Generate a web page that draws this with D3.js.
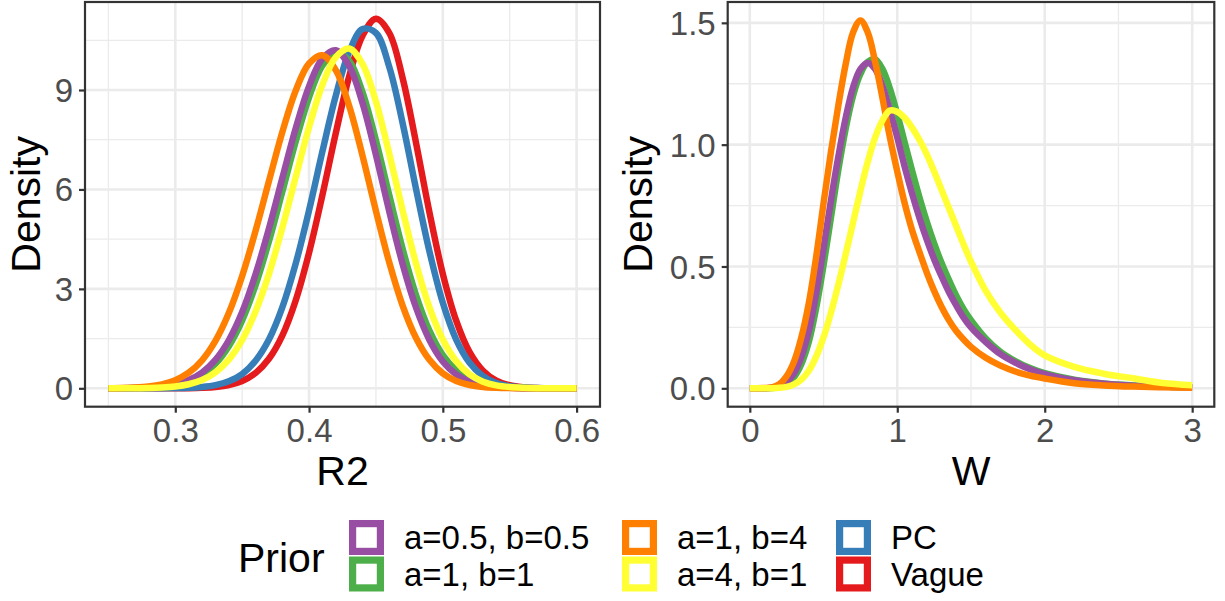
<!DOCTYPE html>
<html>
<head>
<meta charset="utf-8">
<script src="https://cdn.jsdelivr.net/npm/d3@7"></script>
<style>
  html, body { margin: 0; padding: 0; background: #ffffff; }
  svg { display: block; font-family: "Liberation Sans", Arial, sans-serif; }
</style>
</head>
<body>
<svg id="chart" width="1225" height="601"></svg>
<script>
// Prior labels, in legend order
const priors = ["a=0.5, b=0.5", "a=1, b=1", "a=1, b=4", "a=4, b=1", "PC", "Vague"];
const priorColors = ["#984EA3", "#4DAF4A", "#FF7F00", "#FFFF33", "#377EB8", "#E41A1C"];

// R2 panel: densities on a shared grid
const r2Grid = [0.25, 0.26, 0.27, 0.28, 0.29, 0.30, 0.31, 0.32, 0.33, 0.34, 0.35, 0.36,
  0.37, 0.38, 0.39, 0.40, 0.41, 0.42, 0.43, 0.44, 0.45, 0.46, 0.47, 0.48,
  0.49, 0.50, 0.51, 0.52, 0.53, 0.54, 0.55, 0.56, 0.57, 0.58, 0.59, 0.60];
const r2Purple = [0.001, 0.004, 0.01, 0.024, 0.056, 0.122, 0.249, 0.476, 0.859, 1.45, 2.30, 3.44,
  4.82, 6.34, 7.84, 9.11, 9.95, 10.2, 9.73, 8.60, 7.04, 5.33, 3.74, 2.43,
  1.46, 0.81, 0.42, 0.20, 0.088, 0.036, 0.014, 0.005, 0.002, 0, 0, 0];
const r2Green = [0.001, 0.003, 0.008, 0.019, 0.046, 0.10, 0.21, 0.41, 0.74, 1.27, 2.05, 3.11,
  4.43, 5.93, 7.44, 8.78, 9.74, 10.14, 9.88, 8.93, 7.48, 5.82, 4.20, 2.81,
  1.74, 1.00, 0.54, 0.27, 0.12, 0.052, 0.021, 0.008, 0.003, 0.001, 0, 0];
const r2Orange = [0.004, 0.01, 0.024, 0.055, 0.12, 0.245, 0.47, 0.846, 1.43, 2.27, 3.39, 4.75,
  6.25, 7.73, 8.98, 9.80, 10.05, 9.60, 8.52, 7.01, 5.35, 3.79, 2.49, 1.52,
  0.86, 0.45, 0.22, 0.10, 0.04, 0.016, 0.006, 0.002, 0, 0, 0, 0];
const r2Yellow = [0, 0.001, 0.004, 0.01, 0.024, 0.056, 0.123, 0.25, 0.479, 0.863, 1.46, 2.32,
  3.45, 4.84, 6.37, 7.88, 9.16, 9.99, 10.25, 9.78, 8.65, 7.07, 5.36, 3.76,
  2.44, 1.47, 0.82, 0.42, 0.20, 0.088, 0.036, 0.014, 0.005, 0.002, 0, 0];
const r2Blue = [0, 0, 0, 0.001, 0.002, 0.006, 0.015, 0.040, 0.095, 0.21, 0.43, 0.83,
  1.47, 2.44, 3.76, 5.37, 7.15, 8.83, 10.15, 10.84, 10.72, 9.69, 7.99, 6.01,
  4.13, 2.58, 1.47, 0.77, 0.37, 0.16, 0.062, 0.023, 0.008, 0.002, 0, 0];
const r2Red = [0, 0, 0, 0, 0.001, 0.002, 0.005, 0.015, 0.039, 0.096, 0.22, 0.46,
  0.89, 1.59, 2.65, 4.09, 5.83, 7.70, 9.41, 10.64, 11.15, 10.72, 9.35, 7.40,
  5.31, 3.45, 2.04, 1.09, 0.53, 0.23, 0.093, 0.034, 0.011, 0.003, 0.001, 0];

// W panel: only the four beta priors
const wGrid = [0, 0.05, 0.1, 0.15, 0.2, 0.25, 0.3, 0.35, 0.4, 0.45, 0.5, 0.55, 0.6, 0.65,
  0.7, 0.75, 0.8, 0.85, 0.9, 0.95, 1.0, 1.05, 1.1, 1.15, 1.2, 1.25, 1.3, 1.35,
  1.4, 1.45, 1.5, 1.6, 1.7, 1.8, 1.9, 2.0, 2.2, 2.4, 2.6, 2.8, 3.0];
const wPurple = [0, 0, 0.0005, 0.002, 0.008, 0.026, 0.062, 0.13, 0.235, 0.39, 0.575, 0.77, 0.95, 1.11,
  1.235, 1.31, 1.335, 1.31, 1.24, 1.14, 1.03, 0.91, 0.80, 0.70, 0.61, 0.53, 0.46, 0.395,
  0.34, 0.29, 0.25, 0.19, 0.14, 0.105, 0.078, 0.058, 0.033, 0.019, 0.011, 0.007, 0.004];
const wGreen = [0, 0, 0.0003, 0.001, 0.005, 0.018, 0.046, 0.10, 0.19, 0.33, 0.505, 0.70, 0.895, 1.065,
  1.20, 1.29, 1.34, 1.35, 1.31, 1.23, 1.125, 1.01, 0.895, 0.785, 0.685, 0.595, 0.515, 0.445,
  0.38, 0.325, 0.28, 0.205, 0.15, 0.112, 0.083, 0.062, 0.035, 0.02, 0.012, 0.007, 0.004];
const wOrange = [0, 0, 0.001, 0.004, 0.017, 0.05, 0.11, 0.21, 0.35, 0.54, 0.76, 0.97, 1.16, 1.33,
  1.46, 1.51, 1.46, 1.34, 1.19, 1.03, 0.89, 0.76, 0.65, 0.56, 0.475, 0.40, 0.335, 0.28,
  0.235, 0.20, 0.17, 0.125, 0.093, 0.069, 0.052, 0.04, 0.021, 0.012, 0.007, 0.004, 0.002];
const wYellow = [0, 0, 0, 0.0005, 0.002, 0.006, 0.016, 0.036, 0.072, 0.13, 0.21, 0.31, 0.425, 0.55,
  0.68, 0.81, 0.93, 1.03, 1.10, 1.14, 1.135, 1.11, 1.07, 1.02, 0.96, 0.89, 0.815, 0.74,
  0.665, 0.59, 0.52, 0.40, 0.31, 0.24, 0.18, 0.135, 0.088, 0.06, 0.041, 0.022, 0.013];

// Tick labels
const r2Ticks = [0.3, 0.4, 0.5, 0.6];
const r2MinorTicks = [0.25, 0.35, 0.45, 0.55];
const r2DensityTicks = [0, 3, 6, 9];
const r2DensityMinor = [1.5, 4.5, 7.5, 10.5];
const wTicks = [0, 1, 2, 3];
const wMinorTicks = [0.5, 1.5, 2.5];
const wDensityTicks = [0, 0.5, 1.0, 1.5];
const wDensityMinor = [0.25, 0.75, 1.25];

const svg = d3.select('#chart');

const panelTop = 2, panelBottom = 406.7;
const tickColor = '#333333', labelColor = '#4D4D4D', gridColor = '#EBEBEB';

function drawPanel(opts) {
    const x = d3.scaleLinear().domain(opts.xDomain).range([opts.left, opts.right]);
    const y = d3.scaleLinear().domain(opts.yDomain).range([panelBottom, panelTop]);
    const g = svg.append('g');

    // background + grid
    g.append('rect')
        .attr('x', opts.left).attr('y', panelTop)
        .attr('width', opts.right - opts.left).attr('height', panelBottom - panelTop)
        .attr('fill', '#ffffff');

    const grid = g.append('g');
    opts.xMinor.forEach(v => grid.append('line')
        .attr('x1', x(v)).attr('x2', x(v)).attr('y1', panelTop).attr('y2', panelBottom)
        .attr('stroke', gridColor).attr('stroke-width', 1.3));
    opts.yMinor.forEach(v => grid.append('line')
        .attr('x1', opts.left).attr('x2', opts.right).attr('y1', y(v)).attr('y2', y(v))
        .attr('stroke', gridColor).attr('stroke-width', 1.3));
    opts.xTicks.forEach(v => grid.append('line')
        .attr('x1', x(v)).attr('x2', x(v)).attr('y1', panelTop).attr('y2', panelBottom)
        .attr('stroke', gridColor).attr('stroke-width', 2.6));
    opts.yTicks.forEach(v => grid.append('line')
        .attr('x1', opts.left).attr('x2', opts.right).attr('y1', y(v)).attr('y2', y(v))
        .attr('stroke', gridColor).attr('stroke-width', 2.6));

    // density lines
    const line = d3.line()
        .x((d, i) => x(opts.grid[i]))
        .y(d => y(d))
        .curve(d3.curveCatmullRom.alpha(0.5));

    g.append('g')
        .selectAll('path')
        .data(opts.series)
        .join('path')
        .attr('d', d => line(d.values))
        .attr('fill', 'none')
        .attr('stroke', d => d.color)
        .attr('stroke-width', 6.5)
        .attr('stroke-linejoin', 'round')
        .attr('stroke-linecap', 'butt');

    // panel border
    g.append('rect')
        .attr('x', opts.left).attr('y', panelTop)
        .attr('width', opts.right - opts.left).attr('height', panelBottom - panelTop)
        .attr('fill', 'none').attr('stroke', tickColor).attr('stroke-width', 2.2);

    // x axis
    const xAxis = d3.axisBottom(x).tickValues(opts.xTicks).tickSize(6).tickPadding(12)
        .tickFormat(opts.xFormat);
    const xg = g.append('g').attr('transform', `translate(0,${panelBottom})`).call(xAxis);
    xg.select('.domain').remove();
    xg.selectAll('.tick line').attr('stroke', tickColor).attr('stroke-width', 2.2);
    xg.selectAll('.tick text').attr('fill', labelColor).attr('font-size', 33)
        .attr('font-family', '"Liberation Sans", Arial, sans-serif')
        .attr('dy', null).attr('y', 35);

    // y axis
    const yAxis = d3.axisLeft(y).tickValues(opts.yTicks).tickSize(6).tickPadding(6)
        .tickFormat(opts.yFormat);
    const yg = g.append('g').attr('transform', `translate(${opts.left},0)`).call(yAxis);
    yg.select('.domain').remove();
    yg.selectAll('.tick line').attr('stroke', tickColor).attr('stroke-width', 2.2);
    yg.selectAll('.tick text').attr('fill', labelColor).attr('font-size', 33)
        .attr('font-family', '"Liberation Sans", Arial, sans-serif')
        .attr('dy', '0.35em');

    // titles
    g.append('text')
        .attr('x', (opts.left + opts.right) / 2).attr('y', 485)
        .attr('text-anchor', 'middle').attr('font-size', 41).attr('fill', '#000')
        .text(opts.xTitle);
    g.append('text')
        .attr('transform', `translate(${opts.yTitleX},${(panelTop + panelBottom) / 2}) rotate(-90)`)
        .attr('text-anchor', 'middle').attr('font-size', 41).attr('fill', '#000')
        .text('Density');
}

drawPanel({
    left: 85, right: 600,
    xDomain: [0.2325, 0.6175], yDomain: [-0.555, 11.655],
    grid: r2Grid,
    series: [
        { color: priorColors[5], values: r2Red },
        { color: priorColors[4], values: r2Blue },
        { color: priorColors[1], values: r2Green },
        { color: priorColors[0], values: r2Purple },
        { color: priorColors[2], values: r2Orange },
        { color: priorColors[3], values: r2Yellow }
    ],
    xTicks: r2Ticks, xMinor: r2MinorTicks, yTicks: r2DensityTicks, yMinor: r2DensityMinor,
    xFormat: d3.format('.1f'), yFormat: d3.format('d'),
    xTitle: 'R2', yTitleX: 40
});

drawPanel({
    left: 727.7, right: 1214.3,
    xDomain: [-0.15, 3.15], yDomain: [-0.0755, 1.5855],
    grid: wGrid,
    series: [
        { color: priorColors[1], values: wGreen },
        { color: priorColors[0], values: wPurple },
        { color: priorColors[2], values: wOrange },
        { color: priorColors[3], values: wYellow }
    ],
    xTicks: wTicks, xMinor: wMinorTicks, yTicks: wDensityTicks, yMinor: wDensityMinor,
    xFormat: d3.format('d'), yFormat: d3.format('.1f'),
    xTitle: 'W', yTitleX: 652
});

// legend
const legend = svg.append('g');
legend.append('text')
    .attr('x', 238).attr('y', 572)
    .attr('font-size', 41).attr('fill', '#000')
    .text('Prior');

const keyX = [349, 622, 836];
const keyY = [520, 556.5];
const keySize = 35;
priors.forEach((p, i) => {
    const col = Math.floor(i / 2), row = i % 2;
    const kx = keyX[col], ky = keyY[row];
    legend.append('rect')
        .attr('x', kx + 3.6).attr('y', ky + 3.6)
        .attr('width', keySize - 7.2).attr('height', keySize - 7.2)
        .attr('fill', '#ffffff')
        .attr('stroke', priorColors[i]).attr('stroke-width', 7.2);
    legend.append('text')
        .attr('x', kx + keySize + 20).attr('y', ky + keySize / 2)
        .attr('dy', '0.35em')
        .attr('font-size', 33).attr('fill', '#000')
        .text(p);
});
</script>
</body>
</html>
